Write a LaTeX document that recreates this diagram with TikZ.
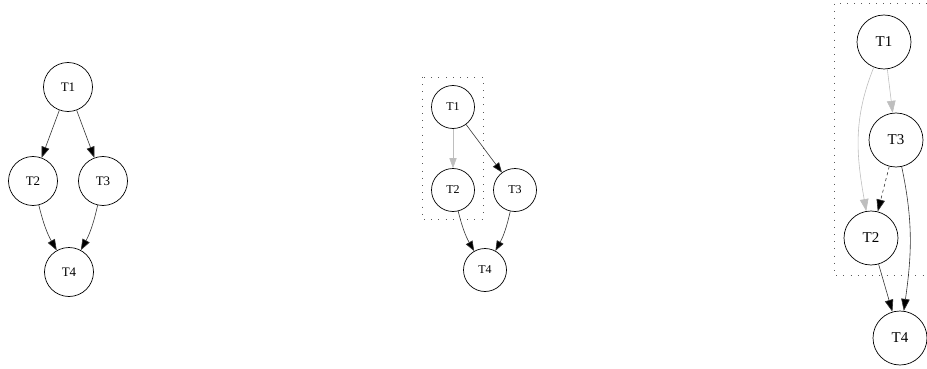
\documentclass[tikz,border=0pt]{standalone}
\usepackage{fontspec}
\setmainfont{Liberation Serif}
\usetikzlibrary{arrows.meta}
\definecolor{lightedge}{RGB}{190,190,190}
\begin{document}
\begin{tikzpicture}[x=1pt,y=-1pt,
  taskA/.style={circle,draw,line width=0.7pt,inner sep=0pt,minimum size=49pt,font=\fontsize{13}{15}\selectfont},
  taskB/.style={circle,draw,line width=0.7pt,inner sep=0pt,minimum size=43pt,font=\fontsize{12}{14}\selectfont},
  taskC/.style={circle,draw,line width=0.7pt,inner sep=0pt,minimum size=54pt,font=\fontsize{15}{17}\selectfont},
  edgeA/.style={line width=0.6pt,draw=black!80,-{Triangle[length=11pt,width=8pt,fill=black]}},
  edgeB/.style={line width=0.6pt,draw=black!80,-{Triangle[length=10pt,width=7.5pt,fill=black]}},
  edgeC/.style={line width=0.6pt,draw=black!80,-{Triangle[length=12pt,width=8.5pt,fill=black]}},
  greyedge/.style={draw=lightedge},
  greytip/.style={-{Triangle[length=#1,width=0.72*#1,fill=lightedge,color=lightedge]}},
  dottedbox/.style={draw=black!65,line width=0.8pt,dash pattern=on 0.8pt off 6.4pt}
]
\useasboundingbox (0,0) rectangle (927,369);

% Diagram 1
\node[taskA] (a1) at (68,87) {T1};
\node[taskA] (a2) at (33,181) {T2};
\node[taskA] (a3) at (103,181) {T3};
\node[taskA] (a4) at (69,272) {T4};
\draw[edgeA] (a1) -- (a2);
\draw[edgeA] (a1) -- (a3);
\draw[edgeA] (a2) to[bend right=8] (a4);
\draw[edgeA] (a3) to[bend left=8] (a4);

% Diagram 2
\draw[dottedbox] (422,77) rectangle (483,219);
\node[taskB] (b1) at (453,107) {T1};
\node[taskB] (b2) at (453,190) {T2};
\node[taskB] (b3) at (515,190) {T3};
\node[taskB] (b4) at (485,270) {T4};
\draw[edgeB,greyedge,greytip=10pt] (b1) -- (b2);
\draw[edgeB] (b1) -- (b3);
\draw[edgeB] (b2) to[bend right=8] (b4);
\draw[edgeB] (b3) to[bend left=8] (b4);

% Diagram 3
\coordinate (cbtr) at (927,3);
\coordinate (cbtl) at (834,3);
\coordinate (cbbl) at (834,275);
\coordinate (cbbr) at (927,275);
\draw[dottedbox] (cbtr) -- (cbtl) -- (cbbl) -- (cbbr);
\node[taskC] (c1) at (884,42) {T1};
\node[taskC] (c3) at (896,140) {T3};
\node[taskC] (c2) at (871,238) {T2};
\node[taskC] (c4) at (900,338) {T4};
\draw[edgeC,greyedge,greytip=12pt] (c1) to[out=-112,in=100] (c2);
\draw[edgeC,greyedge,greytip=12pt] (c1) -- (c3);
\draw[edgeC,dashed] (c3) -- (c2);
\draw[edgeC] (c3) to[out=-78,in=82] (c4);
\draw[edgeC] (c2) -- (c4);
\end{tikzpicture}
\end{document}
